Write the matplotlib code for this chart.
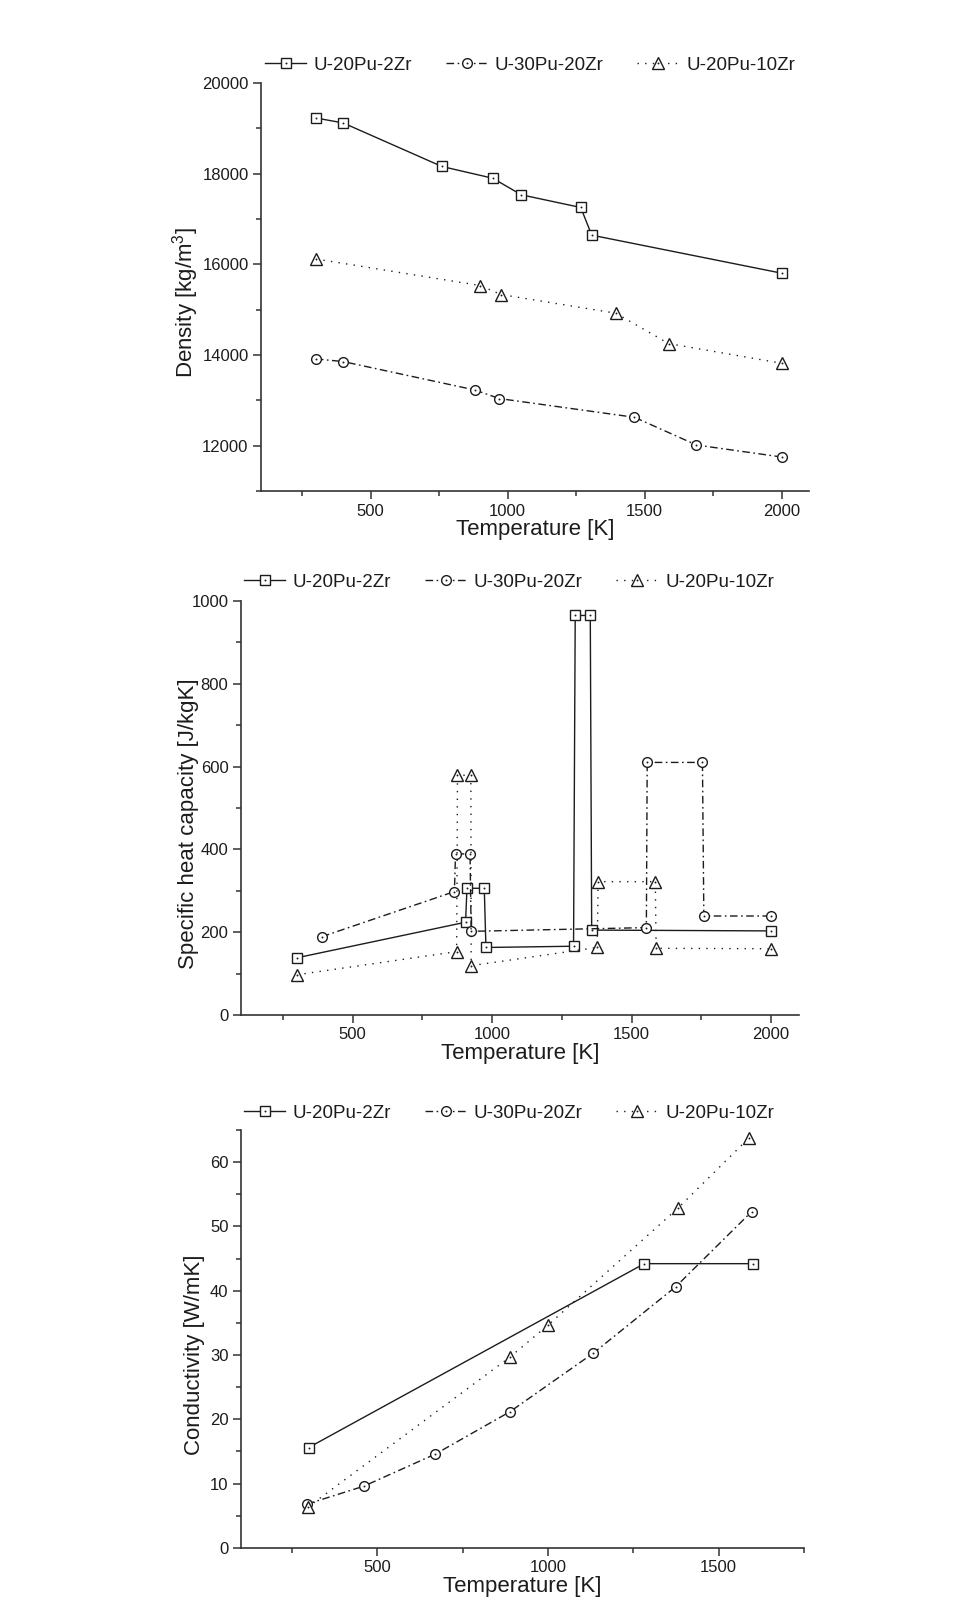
import numpy as np
import matplotlib
matplotlib.use("Agg")
import matplotlib.pyplot as plt
from matplotlib.ticker import MultipleLocator
from matplotlib.legend_handler import HandlerTuple

plt.rcParams['font.family'] = ['Liberation Sans', 'DejaVu Sans']
plt.rcParams['mathtext.fontset'] = 'custom'
plt.rcParams['mathtext.rm'] = 'Liberation Sans'
plt.rcParams['mathtext.it'] = 'Liberation Sans'

# Density data
T_d_2Zr = [300, 400, 760, 946, 1050, 1267, 1307, 2000]
rho_2Zr = [19230, 19120, 18160, 17900, 17535, 17255, 16645, 15806]
T_d_20Zr = [300, 400, 880, 970, 1463, 1689, 2000]
rho_20Zr = [13915, 13856, 13230, 13040, 12627, 12016, 11751]
T_d_10Zr = [300, 900, 976, 1395, 1588, 2000]
rho_10Zr = [16120, 15533, 15335, 14923, 14253, 13819]

# Specific heat capacity data
T_cp_2Zr = [300, 905, 910, 972, 978, 1292, 1298, 1352, 1357, 2000]
cp_2Zr = [138, 224, 306, 306, 163, 166, 965, 965, 205, 203]
T_cp_20Zr = [390, 865, 869, 921, 925, 1553, 1556, 1754, 1759, 2000]
cp_20Zr = [189, 298, 389, 389, 202, 211, 610, 610, 239, 239]
T_cp_10Zr = [300, 873, 876, 924, 925, 1377, 1380, 1585, 1588, 2000]
cp_10Zr = [97, 153, 579, 579, 119, 163, 322, 322, 161, 160]

# Conductivity data
T_k_2Zr = [298, 1282, 1600]
k_2Zr = [15.6, 44.2, 44.2]
T_k_20Zr = [293, 460, 670, 889, 1133, 1374, 1597]
k_20Zr = [6.8, 9.6, 14.6, 21.2, 30.3, 40.6, 52.3]
T_k_10Zr = [295, 889, 999, 1380, 1590]
k_10Zr = [6.3, 29.7, 34.6, 52.8, 63.8]

labels = ["U-20Pu-2Zr", "U-30Pu-20Zr", "U-20Pu-10Zr"]
markers = ["s", "o", "^"]
msizes = [6.5, 7, 8.5]
styles = ["-", (0, (5.5, 2.5, 1.2, 2.5)), (0, (1, 4.5))]
ink = "#1c1c1c"
axc = "#333333"

fig = plt.figure(figsize=(9.54, 16.19), dpi=100)

panels = [
    dict(pos=[0.2736, 0.6967, 0.5744, 0.2520],
         data=[(T_d_2Zr, rho_2Zr), (T_d_20Zr, rho_20Zr), (T_d_10Zr, rho_10Zr)],
         xlim=(100, 2100), ylim=(11000, 20000), xmaj=500, xmin=250, ymaj=2000, ymin=1000,
         ylabel="Density [kg/m$^3$]", lab_x=-0.109, leg_y=1 - 65 / 1619, leg_x=265 / 954),
    dict(pos=[0.2526, 0.3731, 0.5849, 0.2557],
         data=[(T_cp_2Zr, cp_2Zr), (T_cp_20Zr, cp_20Zr), (T_cp_10Zr, cp_10Zr)],
         xlim=(100, 2100), ylim=(0, 1000), xmaj=500, xmin=250, ymaj=200, ymin=100,
         ylabel="Specific heat capacity [J/kgK]", lab_x=-0.075, leg_y=1 - 582 / 1619, leg_x=244 / 954),
    dict(pos=[0.2526, 0.0439, 0.5901, 0.2582],
         data=[(T_k_2Zr, k_2Zr), (T_k_20Zr, k_20Zr), (T_k_10Zr, k_10Zr)],
         xlim=(100, 1750), ylim=(0, 65), xmaj=500, xmin=250, ymaj=10, ymin=5,
         ylabel="Conductivity [W/mK]", lab_x=-0.064, leg_y=1 - 1113 / 1619, leg_x=244 / 954),
]

for p in panels:
    ax = fig.add_axes(p["pos"])
    handles = []
    for (x, y), m, ms, ls in zip(p["data"], markers, msizes, styles):
        ln, = ax.plot(x, y, color=ink, lw=1.0, ls=ls, marker=m, ms=ms,
                      mfc="white", mec=ink, mew=1.0)
        dt, = ax.plot(x, y, ls="none", marker="o", ms=1.4, color=ink, mew=0)
        handles.append((ln, dt))
    ax.set_xlim(*p["xlim"])
    ax.set_ylim(*p["ylim"])
    ax.xaxis.set_major_locator(MultipleLocator(p["xmaj"]))
    ax.xaxis.set_minor_locator(MultipleLocator(p["xmin"]))
    ax.yaxis.set_major_locator(MultipleLocator(p["ymaj"]))
    ax.yaxis.set_minor_locator(MultipleLocator(p["ymin"]))
    for s in ["top", "right"]:
        ax.spines[s].set_visible(False)
    for s in ["left", "bottom"]:
        ax.spines[s].set_linewidth(1.2)
        ax.spines[s].set_color(axc)
    ax.tick_params(which="major", direction="out", length=5.8, width=1.1,
                   color=axc, labelsize=12, labelcolor=ink, pad=3.2)
    ax.tick_params(which="minor", direction="out", length=3.6, width=1.1, color=axc)
    ax.set_xlabel("Temperature [K]", fontsize=16, color=ink, labelpad=0.3)
    ax.set_ylabel(p["ylabel"], fontsize=16, color=ink)
    ax.yaxis.set_label_coords(p["lab_x"], 0.462)
    fig.legend(handles, labels, loc="center left", bbox_to_anchor=(p["leg_x"], p["leg_y"]),
               ncol=3, frameon=False, fontsize=13.5, handlelength=2.2, handletextpad=0.4,
               columnspacing=1.8, borderpad=0, borderaxespad=0, labelcolor=ink,
               handler_map={tuple: HandlerTuple(ndivide=1)})

fig.savefig("out.png", dpi=100)
